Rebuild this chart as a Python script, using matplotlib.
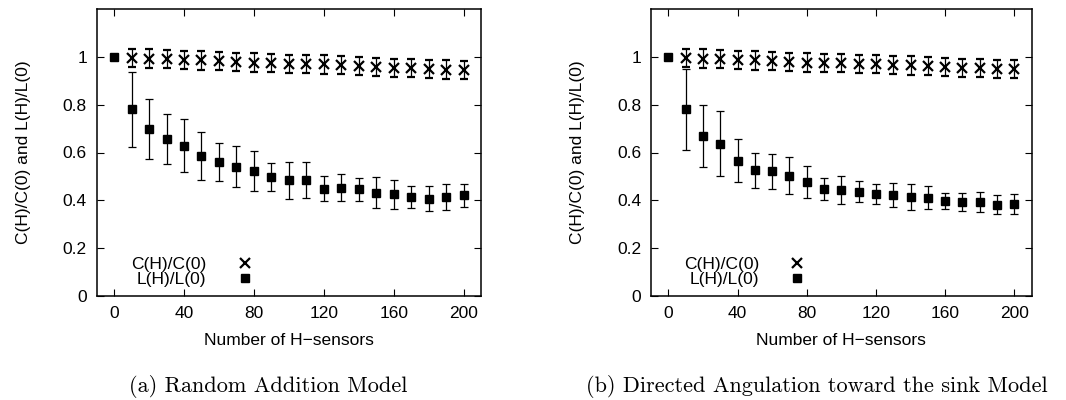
import matplotlib
matplotlib.use("Agg")
import matplotlib.pyplot as plt

plt.rcParams['font.family'] = ['Liberation Sans', 'DejaVu Sans']

# number of H-sensors
sensors = [0, 10, 20, 30, 40, 50, 60, 70, 80, 90, 100,
           110, 120, 130, 140, 150, 160, 170, 180, 190, 200]

# (a) random addition model
c_rand = [1.0, 0.996, 0.993, 0.990, 0.987, 0.985, 0.982, 0.979, 0.976, 0.973, 0.971,
          0.971, 0.968, 0.965, 0.960, 0.958, 0.955, 0.952, 0.948, 0.947, 0.945]
c_rand_err = [0.0] + [0.038] * 20
l_rand = [1.0, 0.780, 0.697, 0.655, 0.629, 0.587, 0.559, 0.540, 0.523, 0.498, 0.483,
          0.485, 0.449, 0.453, 0.446, 0.431, 0.425, 0.415, 0.406, 0.414, 0.421]
l_rand_err = [0.0, 0.158, 0.125, 0.105, 0.112, 0.100, 0.080, 0.086, 0.082, 0.060, 0.076,
              0.074, 0.052, 0.057, 0.049, 0.065, 0.060, 0.046, 0.052, 0.053, 0.049]

# (b) directed angulation toward the sink
c_dir = [1.0, 0.996, 0.993, 0.990, 0.987, 0.985, 0.982, 0.979, 0.976, 0.973, 0.973,
         0.971, 0.969, 0.966, 0.964, 0.961, 0.958, 0.954, 0.952, 0.950, 0.948]
c_dir_err = [0.0] + [0.038] * 20
l_dir = [1.0, 0.780, 0.669, 0.636, 0.566, 0.526, 0.522, 0.503, 0.477, 0.448, 0.442,
         0.435, 0.427, 0.422, 0.414, 0.410, 0.396, 0.393, 0.393, 0.382, 0.385]
l_dir_err = [0.0, 0.168, 0.128, 0.136, 0.090, 0.074, 0.073, 0.077, 0.068, 0.046, 0.058,
             0.044, 0.042, 0.050, 0.053, 0.048, 0.034, 0.037, 0.040, 0.040, 0.042]

xticks = [0, 40, 80, 120, 160, 200]
yticks = [0, 0.2, 0.4, 0.6, 0.8, 1.0]
ytick_labels = ['0', '0.2', '0.4', '0.6', '0.8', '1']

captions = ['(a) Random Addition Model',
            '(b) Directed Angulation toward the sink Model']

FS = 12.5


def draw_panel(ax, c_vals, c_err, l_vals, l_err):
    # the C point at H=0 sits under the L square, so start the crosses at H=10
    c_eb = ax.errorbar(sensors[1:], c_vals[1:], yerr=c_err[1:], fmt='x', color='black',
                       ms=6.5, mew=1.6, ecolor='black', elinewidth=0.9, capsize=2.6,
                       capthick=0.9, label='C(H)/C(0)')
    l_eb = ax.errorbar(sensors, l_vals, yerr=l_err, fmt='s', color='black', ms=6.4,
                       ecolor='black', elinewidth=0.9, capsize=2.6, capthick=0.9,
                       label='L(H)/L(0)')
    ax.set_xlim(-10, 210)
    ax.set_ylim(0, 1.2)
    ax.set_xticks(xticks)
    ax.set_yticks(yticks)
    ax.set_yticklabels(ytick_labels)
    ax.tick_params(direction='in', length=5, width=0.8, top=True, right=True,
                   labelsize=FS, pad=7)
    for sp in ax.spines.values():
        sp.set_linewidth(1.1)
    ax.set_xlabel('Number of H\u2212sensors', fontsize=FS, labelpad=9)
    ax.set_ylabel('C(H)/C(0) and L(H)/L(0)', fontsize=FS, labelpad=23)
    ax.legend(handles=[c_eb.lines[0], l_eb.lines[0]],
              labels=['C(H)/C(0)', 'L(H)/L(0)'],
              loc='lower right', bbox_to_anchor=(0.43, 0.03), frameon=False,
              markerfirst=False, fontsize=FS, handlelength=2.0, handletextpad=1.2,
              labelspacing=0.0, borderpad=0, borderaxespad=0)


def main():
    fig = plt.figure(figsize=(10.66, 4.0), dpi=100)
    ax1 = fig.add_axes([0.0907, 0.26, 0.3605, 0.7175])
    ax2 = fig.add_axes([0.6107, 0.26, 0.3571, 0.7175])

    draw_panel(ax1, c_rand, c_rand_err, l_rand, l_rand_err)
    draw_panel(ax2, c_dir, c_dir_err, l_dir, l_dir_err)

    fig.text(0.2514, 0.02, captions[0], family='cmr10', fontsize=16,
             ha='center', va='baseline')
    fig.text(0.766, 0.02, captions[1], family='cmr10', fontsize=16,
             ha='center', va='baseline')

    fig.savefig('out.png', dpi=100)


if __name__ == "__main__":
    main()
